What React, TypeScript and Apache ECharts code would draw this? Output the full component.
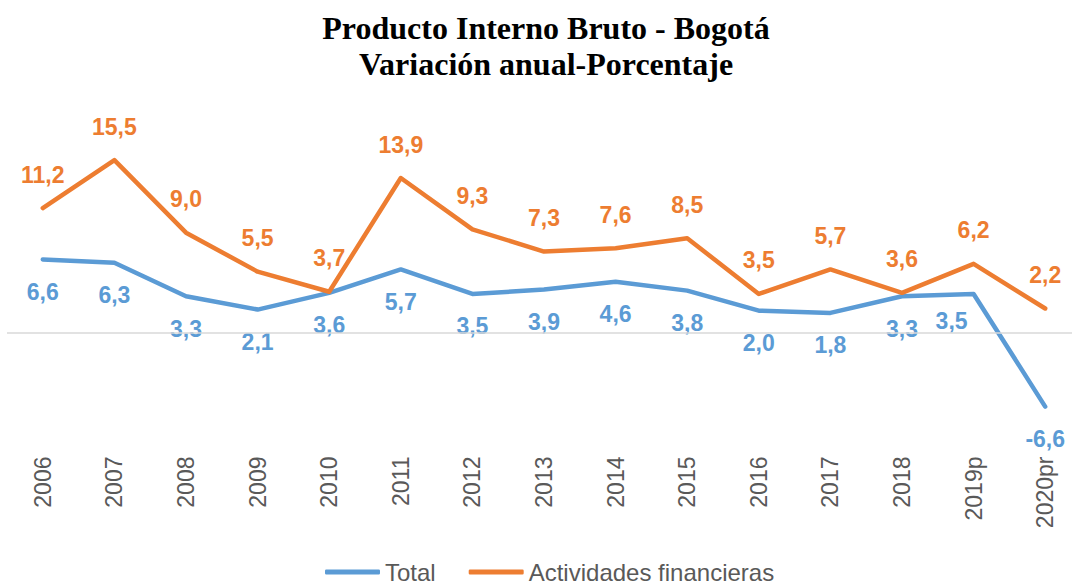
import React, { useEffect, useRef } from "react";
import * as echarts from "echarts";

const years = ["2006", "2007", "2008", "2009", "2010", "2011", "2012", "2013", "2014", "2015", "2016", "2017", "2018", "2019p", "2020pr"];
const totalValues = [6.6, 6.3, 3.3, 2.1, 3.6, 5.7, 3.5, 3.9, 4.6, 3.8, 2.0, 1.8, 3.3, 3.5, -6.6];
const financialValues = [11.2, 15.5, 9.0, 5.5, 3.7, 13.9, 9.3, 7.3, 7.6, 8.5, 3.5, 5.7, 3.6, 6.2, 2.2];
const seriesNames = ["Total", "Actividades financieras"];
const titleLines = ["Producto Interno Bruto - Bogotá", "Variación anual-Porcentaje"];

const BLUE = "#5B9BD5";
const ORANGE = "#ED7D31";

const fmt = (v: number) => v.toFixed(1).replace(".", ",");

export default function App() {
  const ref = useRef<HTMLDivElement>(null);
  useEffect(() => {
    document.body.style.margin = "0";
    if (!ref.current) return;
    const chart = echarts.init(ref.current, undefined, { renderer: "svg" });
    const shiftedIndex = years.indexOf("2019p");
    const labelBase = {
      show: true,
      formatter: (p: any) => fmt(p.value),
      fontFamily: "Liberation Sans",
      fontWeight: "bold",
      fontSize: 23,
    };
    chart.setOption({
      animation: false,
      title: {
        text: titleLines.join("\n"),
        left: 541,
        top: 5,
        textAlign: "center",
        textStyle: {
          fontFamily: "Liberation Serif",
          fontWeight: "bold",
          fontSize: 32,
          lineHeight: 36,
          color: "#000000",
        },
      },
      legend: {
        data: seriesNames.map((n) => ({ name: n, icon: "roundRect" })),
        left: 320,
        top: 555,
        itemWidth: 55,
        itemHeight: 5,
        itemGap: 33,
        textStyle: { fontFamily: "Liberation Sans", fontSize: 24, color: "#595959" },
      },
      grid: { left: 7, right: -9, top: 110, height: 334.5, containLabel: false, outerBoundsMode: "none" },
      xAxis: {
        type: "category",
        data: years,
        boundaryGap: true,
        position: "bottom",
        axisLine: { show: false, onZero: false },
        axisTick: { show: false },
        axisLabel: {
          rotate: 90,
          margin: 12,
          fontFamily: "Liberation Sans",
          fontSize: 23,
          color: "#595959",
        },
      },
      yAxis: {
        type: "value",
        min: -10,
        max: 20,
        show: false,
      },
      series: [
        {
          name: seriesNames[0],
          type: "line",
          data: totalValues,
          symbol: "circle",
          symbolSize: 2,
          showSymbol: true,
          lineStyle: { color: BLUE, width: 4.5, cap: "round", join: "round" },
          itemStyle: { color: BLUE },
          label: { ...labelBase, position: "bottom", distance: 20, color: BLUE },
          labelLayout: (p: any) =>
            p.dataIndex === shiftedIndex ? { dx: -22, dy: -5, hideOverlap: false } : { hideOverlap: false },
          markLine: {
            silent: true,
            symbol: "none",
            label: { show: false },
            lineStyle: { color: "#D9D9D9", width: 1.5, type: "solid" },
            data: [{ yAxis: 0 }],
          },
          z: 2,
        },
        {
          name: seriesNames[1],
          type: "line",
          data: financialValues,
          symbol: "circle",
          symbolSize: 2,
          showSymbol: true,
          lineStyle: { color: ORANGE, width: 4.5, cap: "round", join: "round" },
          itemStyle: { color: ORANGE },
          label: { ...labelBase, position: "top", distance: 21, color: ORANGE },
          labelLayout: { hideOverlap: false },
          z: 3,
        },
      ],
    });
    return () => chart.dispose();
  }, []);
  return <div ref={ref} style={{ width: 1072, height: 584 }} />;
}
